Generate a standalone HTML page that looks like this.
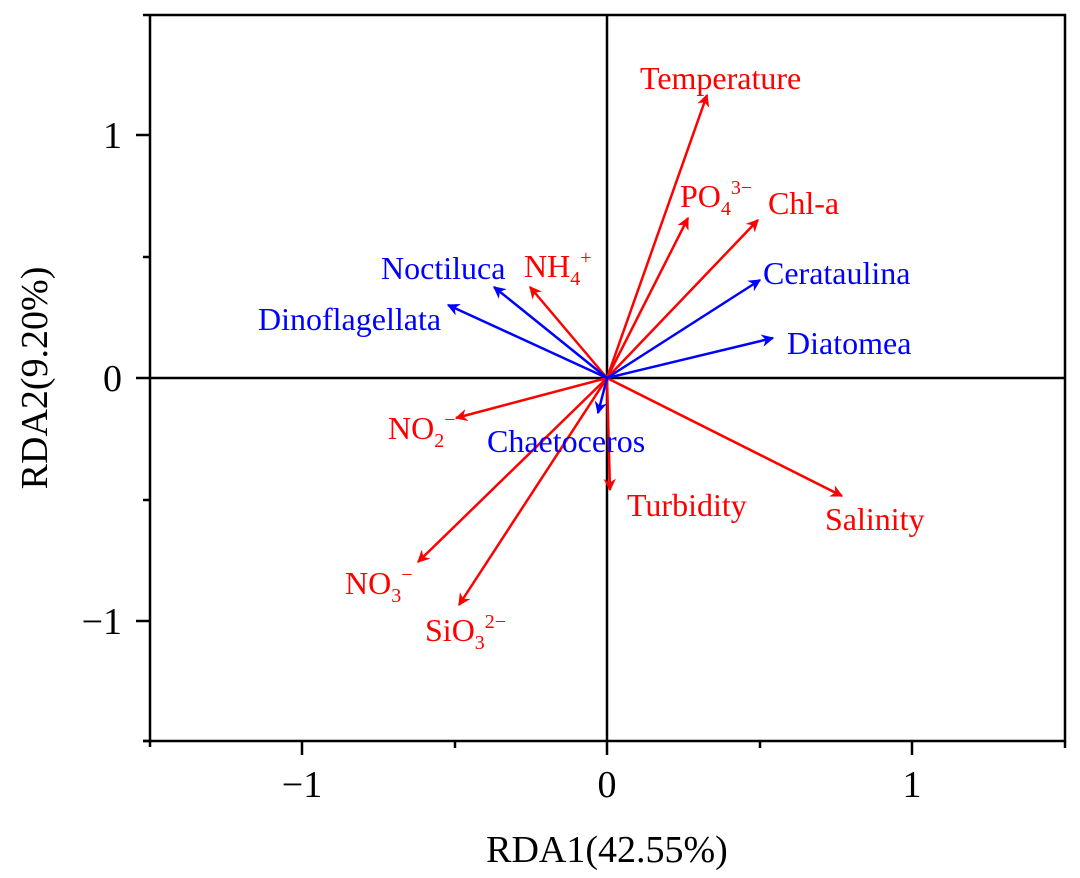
<!DOCTYPE html>
<html><head><style>body{margin:0;background:#fff}svg{display:block}</style></head><body>
<svg width="1080" height="878" viewBox="0 0 1080 878" xmlns="http://www.w3.org/2000/svg" font-family="Liberation Serif, serif">
<defs>
<marker id="r" viewBox="0 0 10 10" refX="9" refY="5" markerWidth="5" markerHeight="5" orient="auto"><path d="M0,0 L10,5 L0,10 L3,5 z" fill="#f00"/></marker>
<marker id="b" viewBox="0 0 10 10" refX="9" refY="5" markerWidth="5" markerHeight="5" orient="auto"><path d="M0,0 L10,5 L0,10 L3,5 z" fill="#00f"/></marker>
</defs>
<g stroke="#000" stroke-width="2.5" fill="none">
<path d="M143,15 H1065 V741 H143 M150,15 V741"/>
<path d="M607,15 V741 M150,378 H1065"/>
<path d="M150,741 v6 M302,741 v14 M455,741 v7 M607,741 v14 M760,741 v7 M912,741 v14 M1065,741 v7"/>
<path d="M150,135 h-14 M150,378 h-14 M150,621 h-14 M150,257 h-7 M150,500 h-7 M150,741 h-7"/>
</g>
<g font-size="38" text-anchor="middle">
<text x="302" y="797">−1</text><text x="607" y="797">0</text><text x="912" y="797">1</text>
<text x="122" y="148" text-anchor="end">1</text><text x="122" y="391" text-anchor="end">0</text><text x="122" y="634" text-anchor="end">−1</text>
<text x="607" y="862">RDA1(42.55%)</text>
<text transform="translate(47,378) rotate(-90)">RDA2(9.20%)</text>
</g>
<g stroke="#f00" stroke-width="2.5" marker-end="url(#r)">
<line x1="607" y1="378" x2="707" y2="95"/>
<line x1="607" y1="378" x2="688" y2="218"/>
<line x1="607" y1="378" x2="758" y2="220"/>
<line x1="607" y1="378" x2="842" y2="496"/>
<line x1="607" y1="378" x2="610" y2="490"/>
<line x1="607" y1="378" x2="456" y2="418"/>
<line x1="607" y1="378" x2="418" y2="562"/>
<line x1="607" y1="378" x2="459" y2="605"/>
<line x1="607" y1="378" x2="530" y2="287"/>
</g>
<g stroke="#00f" stroke-width="2.5" marker-end="url(#b)">
<line x1="607" y1="378" x2="760" y2="280"/>
<line x1="607" y1="378" x2="773" y2="338"/>
<line x1="607" y1="378" x2="598" y2="413"/>
<line x1="607" y1="378" x2="448" y2="305"/>
<line x1="607" y1="378" x2="494" y2="287"/>
</g>
<g font-size="32" fill="#f00">
<text x="640" y="89">Temperature</text>
<text x="680" y="207">PO<tspan font-size="20" dy="8">4</tspan><tspan font-size="20" dy="-21">3−</tspan></text>
<text x="768" y="214">Chl-a</text>
<text x="825" y="530">Salinity</text>
<text x="627" y="516">Turbidity</text>
<text x="388" y="439">NO<tspan font-size="20" dy="8">2</tspan><tspan font-size="20" dy="-21">−</tspan></text>
<text x="345" y="594">NO<tspan font-size="20" dy="8">3</tspan><tspan font-size="20" dy="-21">−</tspan></text>
<text x="425" y="641">SiO<tspan font-size="20" dy="8">3</tspan><tspan font-size="20" dy="-21">2−</tspan></text>
<text x="524" y="277">NH<tspan font-size="20" dy="8">4</tspan><tspan font-size="20" dy="-21">+</tspan></text>
</g>
<g font-size="32" fill="#00f">
<text x="763" y="284">Cerataulina</text>
<text x="787" y="354">Diatomea</text>
<text x="487" y="452">Chaetoceros</text>
<text x="258" y="330">Dinoflagellata</text>
<text x="381" y="279">Noctiluca</text>
</g>
</svg>
</body></html>
